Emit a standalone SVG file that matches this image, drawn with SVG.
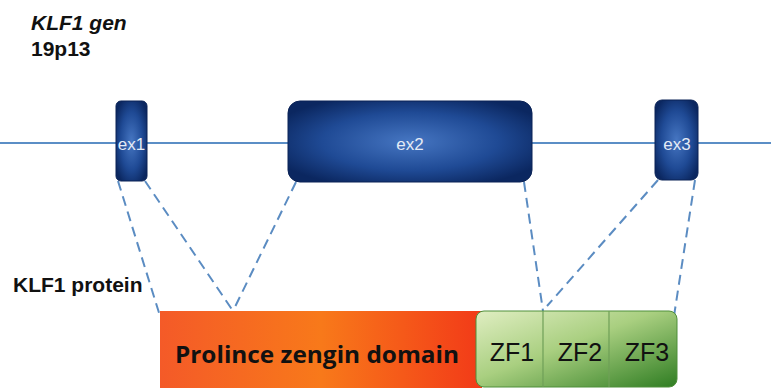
<svg xmlns="http://www.w3.org/2000/svg" width="771" height="392" viewBox="0 0 771 392">
  <style>
    .lbl { font-family: "Liberation Sans", Arial, sans-serif; font-weight: bold; fill: #111; }
    .exon-txt { font-family: "Liberation Sans", Arial, sans-serif; font-size: 17px; fill: #e4ebf6; text-anchor: middle; }
    .zf-txt { font-family: "Liberation Sans", Arial, sans-serif; font-size: 25px; fill: #111; text-anchor: middle; }
    .dash { stroke: #5b8cc2; stroke-width: 2; stroke-dasharray: 10 6; fill: none; }
    .gene-line { stroke: #5b8ec6; stroke-width: 2.2; }
    .exon { fill: url(#exonFill); stroke: #0b2356; stroke-width: 1; }
  </style>
  <defs>
    <radialGradient id="exonFill" cx="50%" cy="50%" r="60%">
      <stop offset="0" stop-color="#4676c2"/>
      <stop offset="0.6" stop-color="#1f4a95"/>
      <stop offset="1" stop-color="#0b2760"/>
    </radialGradient>
    <linearGradient id="orangeFill" x1="0" y1="0" x2="1" y2="0">
      <stop offset="0" stop-color="#f45a28"/>
      <stop offset="0.5" stop-color="#f8791a"/>
      <stop offset="1" stop-color="#f23a18"/>
    </linearGradient>
    <linearGradient id="greenFill" x1="0" y1="0" x2="1" y2="1">
      <stop offset="0" stop-color="#e0eec2"/>
      <stop offset="0.45" stop-color="#a9cf80"/>
      <stop offset="1" stop-color="#2f7d22"/>
    </linearGradient>
  </defs>

  <!-- titles -->
  <text class="lbl" x="31" y="30" font-size="21" font-style="italic">KLF1 gen</text>
  <text class="lbl" x="31" y="56" font-size="21">19p13</text>
  <text class="lbl" x="13" y="292" font-size="21">KLF1 protein</text>

  <!-- gene axis -->
  <line class="gene-line" x1="0" y1="143" x2="771" y2="143"/>

  <!-- exon-to-protein mapping lines -->
  <g id="connectors">
    <line class="dash" x1="118" y1="181" x2="160" y2="316"/>
    <line class="dash" x1="145" y1="181" x2="233" y2="311"/>
    <line class="dash" x1="296" y1="182" x2="233" y2="311"/>
    <line class="dash" x1="524" y1="182" x2="543" y2="311"/>
    <line class="dash" x1="658" y1="180" x2="547" y2="306"/>
    <line class="dash" x1="695" y1="180" x2="674" y2="316"/>
  </g>

  <g id="ex1">
    <rect class="exon" x="116" y="101" width="31" height="80" rx="5"/>
    <text class="exon-txt" x="131.5" y="150">ex1</text>
  </g>
  <g id="ex2">
    <rect class="exon" x="288" y="101" width="244" height="81" rx="12"/>
    <text class="exon-txt" x="410" y="150">ex2</text>
  </g>
  <g id="ex3">
    <rect class="exon" x="655" y="100" width="43" height="80" rx="7"/>
    <text class="exon-txt" x="677" y="150">ex3</text>
  </g>

  <g id="proline-domain">
    <rect x="160" y="311" width="322" height="77" fill="url(#orangeFill)"/>
    <text x="317" y="363" font-family="'Open Sans', 'Noto Sans', sans-serif" font-weight="bold" font-size="24" fill="#111" text-anchor="middle" textLength="284" lengthAdjust="spacingAndGlyphs">Prolince zengin domain</text>
  </g>

  <g id="zinc-fingers">
    <rect x="476" y="311" width="201" height="76" rx="8" fill="url(#greenFill)" stroke="#4f8f3a" stroke-width="1"/>
    <line x1="543" y1="311" x2="543" y2="387" stroke="#6f9f58" stroke-width="1.2"/>
    <line x1="609" y1="311" x2="609" y2="387" stroke="#6f9f58" stroke-width="1.2"/>
    <text class="zf-txt" x="512" y="361">ZF1</text>
    <text class="zf-txt" x="580" y="361">ZF2</text>
    <text class="zf-txt" x="647" y="361">ZF3</text>
  </g>
</svg>
